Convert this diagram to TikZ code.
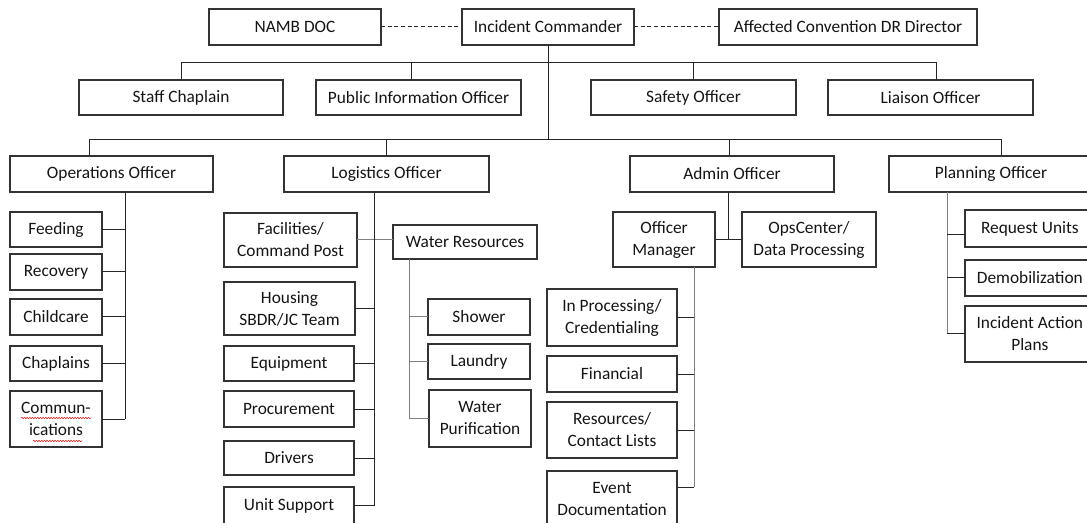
\documentclass[tikz,border=0pt]{standalone}
\usepackage{fontspec}
\setmainfont{Carlito}
\usetikzlibrary{calc,decorations.pathmorphing}
\newcommand\bx[6]{\node[box,minimum width={(#4-#2)*0.75pt},minimum height={(#5-#3)*0.75pt}] (#1) at ({(#2+#4)/2},{(#3+#5)/2}) {#6};}
\begin{document}
\begin{tikzpicture}[x=0.75pt,y=-0.75pt,
  box/.style={draw=black!80,line width=0.85pt,inner sep=0pt,outer sep=0pt,align=center,text=black!92,font=\fontsize{13}{16.5}\selectfont},
  ln/.style={draw=black!85,line width=0.75pt},
  gl/.style={draw=black!50,line width=0.75pt},
  dashline/.style={ln,dash pattern=on 3pt off 2pt},
  squig/.style={draw=red!80!black,line width=0.4pt,decorate,decoration={snake,segment length=2pt,amplitude=0.45pt}}]
\useasboundingbox (0,0) rectangle (1087,523);
\clip (0,0) rectangle (1087,523);
% level 1
\bx{namb}{209}{9}{381}{45}{NAMB DOC}
\bx{ic}{462}{9}{634}{45}{Incident Commander}
\bx{acdr}{719}{9}{977}{45}{Affected Convention DR Director}
% level 2
\bx{chap}{79}{80}{283}{115}{Staff Chaplain}
\bx{pio}{316}{80}{521}{115}{Public Information Officer}
\bx{safety}{591}{80}{796}{115}{Safety Officer}
\bx{liaison}{828}{80}{1033}{115}{Liaison Officer}
% level 3
\bx{ops}{10}{156}{213}{192}{Operations Officer}
\bx{log}{284}{156}{489}{192}{Logistics Officer}
\bx{admin}{630}{156}{834}{192}{Admin Officer}
\bx{plan}{889}{156}{1113}{192}{\hspace*{-15pt}Planning Officer}
% operations
\bx{feed}{10}{212}{102}{247}{Feeding}
\bx{rec}{10}{254}{102}{290}{Recovery}
\bx{child}{10}{299}{102}{335}{Childcare}
\bx{chapl}{10}{346}{102}{381}{Chaplains}
\bx{comm}{10}{391}{102}{447}{Commun-\\ications}
% logistics
\bx{fac}{224}{213}{357}{267}{Facilities/\\Command Post}
\bx{house}{224}{282}{355}{335}{Housing\\SBDR/JC Team}
\bx{equip}{224}{346}{354}{381}{Equipment}
\bx{proc}{224}{391}{354}{427}{Procurement}
\bx{drivers}{224}{441}{354}{475}{Drivers}
\bx{unit}{224}{487}{354}{524}{Unit Support}
\bx{wr}{393}{225}{537}{259}{Water Resources}
\bx{shower}{428}{299}{530}{335}{Shower}
\bx{laundry}{428}{344}{530}{379}{Laundry}
\bx{wpur}{429}{390}{531}{447}{Water\\Purification}
% admin
\bx{om}{613}{212}{715}{267}{Officer\\Manager}
\bx{opc}{742}{212}{876}{267}{OpsCenter/\\Data Processing}
\bx{inproc}{547}{289}{677}{346}{In Processing/\\Credentialing}
\bx{fin}{547}{356}{677}{392}{Financial}
\bx{res}{547}{402}{677}{458}{Resources/\\Contact Lists}
\bx{event}{547}{471}{677}{527}{Event\\Documentation}
% planning
\bx{req}{965}{210}{1100}{247}{\hspace*{-4pt}Request Units}
\bx{demob}{965}{260}{1100}{296}{\hspace*{-4pt}Demobilization}
\bx{iap}{965}{306}{1100}{362}{\hspace*{-4pt}Incident Action\\\hspace*{-4pt}Plans}
% spelling marks
\draw[squig] (21,418) -- (91,418);
\draw[squig] (33,441) -- (82,441);
% top connectors
\draw[dashline] (namb.east) -- (ic.west);
\draw[dashline] (ic.east) -- (acdr.west);
\coordinate (b2) at (0,63);
\coordinate (b3) at (0,140);
\draw[ln] (ic.south) -- (ic.south |- b3);
\coordinate (chapT) at (chap.north);
\coordinate (pioT) at ($(pio.north)+(-7.5,0)$);
\coordinate (safT) at (safety.north);
\coordinate (liaT) at ($(liaison.north)+(5.5,0)$);
\draw[ln] (chapT) -- (chapT |- b2) -- (liaT |- b2) -- (liaT);
\draw[ln] (pioT) -- (pioT |- b2);
\draw[ln] (safT) -- (safT |- b2);
\coordinate (opsT) at ($(ops.north west)+(79.5,0)$);
\coordinate (logT) at (log.north);
\coordinate (admT) at ($(admin.north)+(-3,0)$);
\coordinate (plaT) at (plan.north);
\draw[ln] (opsT) -- (opsT |- b3) -- (plaT |- b3) -- (plaT);
\draw[ln] (logT) -- (logT |- b3);
\draw[ln] (admT) -- (admT |- b3);
% operations
\coordinate (opsB) at ($(ops.south west)+(115,0)$);
\draw[ln] (opsB) -- (opsB |- comm.east);
\foreach \n in {feed,rec,child,chapl,comm} \draw[ln] (\n.east) -- (opsB |- \n.east);
% logistics
\coordinate (logB) at ($(log.south west)+(90,0)$);
\draw[gl] (fac.east) -- (fac.east -| wr.west);
\draw[ln] (logB) -- (logB |- unit.east);
\foreach \n in {house,equip,proc,drivers,unit} \draw[ln] (\n.east) -- (logB |- \n.east);
\coordinate (wrB) at ($(wr.south west)+(16,0)$);
\draw[gl] (wrB) -- (wrB |- wpur.west);
\foreach \n in {shower,laundry,wpur} \draw[gl] (\n.west) -- (wrB |- \n.west);
% admin
\coordinate (admB) at ($(admin.south west)+(98,0)$);
\draw[ln] (admB) -- (admB |- om.east);
\draw[ln] (om.east) -- (opc.west);
\coordinate (omB) at ($(om.south west)+(81,0)$);
\coordinate (evC) at ($(event.north east)+(0,16)$);
\draw[gl] (omB) -- (omB |- evC);
\foreach \n in {inproc.east,fin.east,res.east,evC} \draw[ln] (\n) -- (omB |- \n);
% planning
\coordinate (plaB) at ($(plan.south west)+(58,0)$);
\coordinate (reqC) at ($(req.west)+(0,6.5)$);
\draw[gl] (plaB) -- (plaB |- iap.west);
\foreach \n in {reqC,demob.west,iap.west} \draw[ln] (\n) -- (plaB |- \n);
\end{tikzpicture}
\end{document}
